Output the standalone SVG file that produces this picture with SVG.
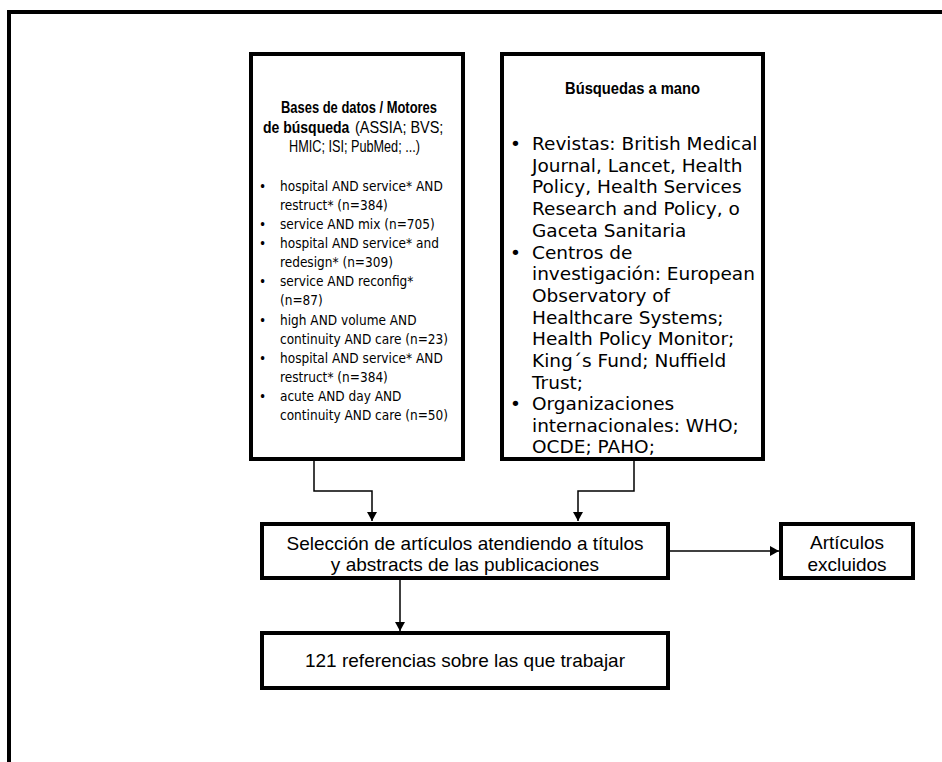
<svg xmlns="http://www.w3.org/2000/svg" width="942" height="762" viewBox="0 0 942 762">
<style>
.box{fill:#fff;stroke:#000;stroke-width:4}
.conn{fill:none;stroke:#000;stroke-width:1.5}
.h{font-family:"Liberation Sans",Arial,sans-serif;font-size:17px;fill:#000}
.hb{font-weight:bold}
.b1{font-family:"DejaVu Sans Condensed","DejaVu Sans",Verdana,sans-serif;font-size:13.5px;fill:#000}
.b2{font-family:"DejaVu Sans",Verdana,sans-serif;font-size:18.5px;fill:#000}
.n{font-family:"Liberation Sans",Arial,sans-serif;font-size:19px;fill:#000;text-anchor:middle}
</style>
<defs>
<marker id="arr" markerWidth="10" markerHeight="10" refX="9" refY="5" orient="auto" markerUnits="userSpaceOnUse">
<path d="M0,0 L9,5 L0,10 Z" fill="#000"/>
</marker>
</defs>
<path d="M9,770 V12 H950" fill="none" stroke="#000" stroke-width="4"/>
<g id="connectors">
<path class="conn" d="M314,459 V491 H372 V521" marker-end="url(#arr)"/>
<path class="conn" d="M634,459 V491 H578 V521" marker-end="url(#arr)"/>
<path class="conn" d="M668,551 H779" marker-end="url(#arr)"/>
<path class="conn" d="M400,578 V631" marker-end="url(#arr)"/>
</g>
<g id="bases">
<rect class="box" x="251" y="54" width="212" height="405"/>
<text class="h hb" x="281" y="113" textLength="156" lengthAdjust="spacingAndGlyphs">Bases de datos / Motores</text>
<text class="h hb" transform="translate(263,133) scale(0.83,1)" x="0" y="0" textLength="104" lengthAdjust="spacingAndGlyphs">de búsqueda</text>
<text class="h" transform="translate(355,133) scale(0.85,1)" x="0" y="0" textLength="104" lengthAdjust="spacingAndGlyphs">(ASSIA; BVS;</text>
<text class="h" x="289" y="152" textLength="131" lengthAdjust="spacingAndGlyphs">HMIC; ISI; PubMed; ...)</text>
<g class="b1">
<text x="259" y="191">•</text><text x="280" y="191">hospital AND service* AND</text>
<text x="280" y="210">restruct* (n=384)</text>
<text x="259" y="229">•</text><text x="280" y="229">service AND mix (n=705)</text>
<text x="259" y="248">•</text><text x="280" y="248">hospital AND service* and</text>
<text x="280" y="267">redesign* (n=309)</text>
<text x="259" y="286">•</text><text x="280" y="286">service AND reconfig*</text>
<text x="280" y="305">(n=87)</text>
<text x="259" y="325">•</text><text x="280" y="325">high AND volume AND</text>
<text x="280" y="344">continuity AND care (n=23)</text>
<text x="259" y="363">•</text><text x="280" y="363">hospital AND service* AND</text>
<text x="280" y="382">restruct* (n=384)</text>
<text x="259" y="401">•</text><text x="280" y="401">acute AND day AND</text>
<text x="280" y="420">continuity AND care (n=50)</text>
</g>
</g>
<g id="manual">
<rect class="box" x="502" y="54" width="261" height="405"/>
<text class="h hb" x="565" y="94" textLength="135" lengthAdjust="spacingAndGlyphs">Búsquedas a mano</text>
<g class="b2">
<text x="510" y="150">•</text><text x="532" y="150">Revistas: British Medical</text>
<text x="532" y="172">Journal, Lancet, Health</text>
<text x="532" y="193">Policy, Health Services</text>
<text x="532" y="215">Research and Policy, o</text>
<text x="532" y="237">Gaceta Sanitaria</text>
<text x="510" y="259">•</text><text x="532" y="259">Centros de</text>
<text x="532" y="280">investigación: European</text>
<text x="532" y="302">Observatory of</text>
<text x="532" y="324">Healthcare Systems;</text>
<text x="532" y="345">Health Policy Monitor;</text>
<text x="532" y="367">King´s Fund; Nuffield</text>
<text x="532" y="389">Trust;</text>
<text x="510" y="410">•</text><text x="532" y="410">Organizaciones</text>
<text x="532" y="432">internacionales: WHO;</text>
<text x="532" y="453">OCDE; PAHO;</text>
</g>
</g>
<g id="seleccion">
<rect class="box" x="262" y="524" width="406" height="54"/>
<text class="n" x="465" y="550">Selección de artículos atendiendo a títulos</text>
<text class="n" x="465" y="571">y abstracts de las publicaciones</text>
</g>
<g id="excluidos">
<rect class="box" x="781" y="524" width="132" height="54"/>
<text class="n" x="847" y="549">Artículos</text>
<text class="n" x="847" y="571">excluidos</text>
</g>
<g id="referencias">
<rect class="box" x="262" y="633" width="406" height="55"/>
<text class="n" x="465" y="667">121 referencias sobre las que trabajar</text>
</g>
</svg>
